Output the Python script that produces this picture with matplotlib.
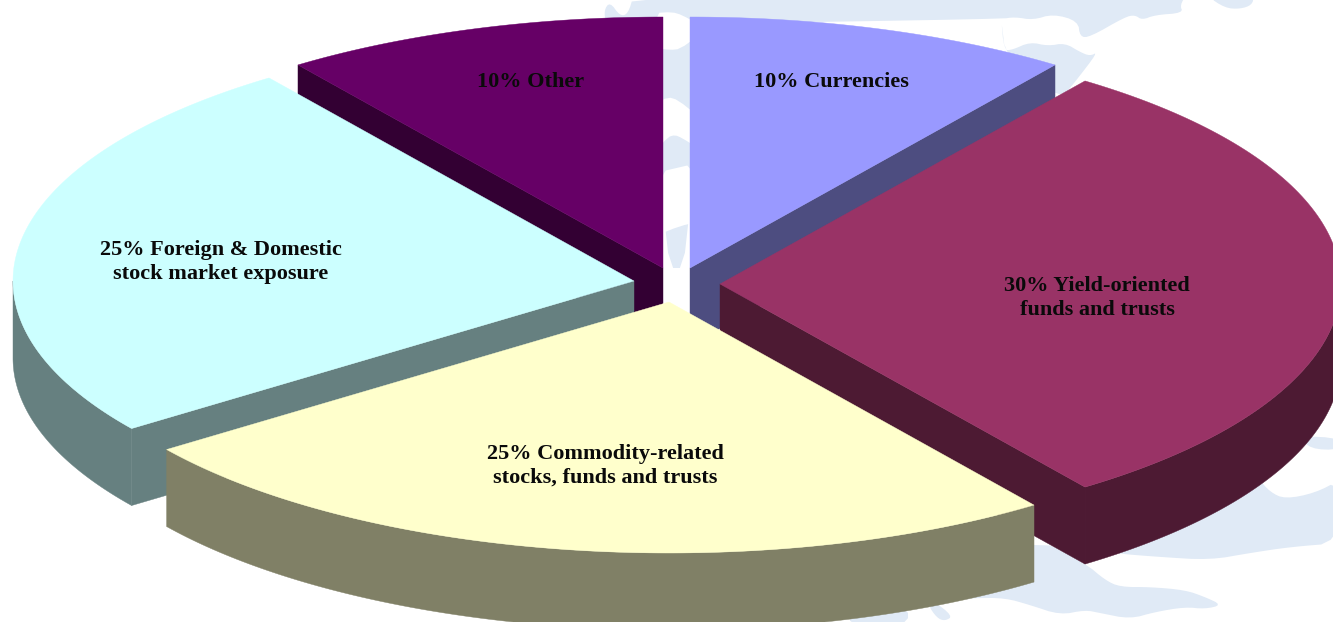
import numpy as np
import matplotlib
matplotlib.use("Agg")
import matplotlib.pyplot as plt
from matplotlib.patches import Polygon

W, H = 1333, 622

# ---- data -------------------------------------------------------------
labels = ["10% Currencies", "30% Yield-oriented\nfunds and trusts",
          "25% Commodity-related\nstocks, funds and trusts",
          "25% Foreign & Domestic\nstock market exposure", "10% Other"]
shares = [10, 30, 25, 25, 10]
top_colors = ["#9999FF", "#993366", "#FFFFCC", "#CCFFFF", "#660066"]
side_colors = ["#4D4D80", "#4D1A33", "#808066", "#668080", "#330033"]
apex_x = [690, 720, 669, 634, 663]
apex_y = [268, 284, 302, 281, 268]
label_x = [831, 1097, 605, 221, 531]
label_y = [82, 298, 466, 262, 82]
draw_order = [4, 0, 3, 1, 2]

RX, RY, DEPTH = 621, 251, 77

fig = plt.figure(figsize=(W / 100, H / 100), dpi=100, facecolor="white")
ax = fig.add_axes([0, 0, 1, 1])
ax.set_xlim(0, W)
ax.set_ylim(H, 0)
ax.axis("off")


def smooth(pts, rounds=2):
    p = np.asarray(pts, float)
    for _ in range(rounds):
        q = np.roll(p, -1, axis=0)
        p = np.column_stack([0.75 * p + 0.25 * q, 0.25 * p + 0.75 * q]).reshape(-1, 2)
    return p


# ---- pale map in the background ---------------------------------------
PALE = "#E0EAF6"
map_shapes = [
    [(610, 2), (604, 10), (606, 24), (663, 24), (663, 268), (690, 268), (690, 24),
     (1001, 19), (1015, 17), (1033, 20), (1053, 14), (1078, 21), (1080, 37),
     (1090, 37), (1125, 17), (1135, 15), (1142, 20), (1155, 15), (1183, 13),
     (1180, 5), (1187, -6), (634, -6), (628, 14), (620, 16)],
    [(1207, -4), (1225, 8), (1240, 9), (1252, 5), (1254, -4)],
    [(1001, 17), (1006, 60), (1060, 100), (1075, 82), (1098, 52), (1090, 56),
     (1080, 52), (1065, 43), (1048, 46), (1030, 42), (1012, 50), (1004, 50)],
    [(1340, 438), (1340, 450), (1310, 449), (1300, 436)],
    [(1258, 478), (1270, 492), (1285, 499), (1315, 493), (1340, 480), (1340, 543),
     (1290, 547), (1250, 553), (1210, 560), (1160, 557), (1110, 553), (1040, 540),
     (1200, 470)],
    [(1030, 535), (1085, 563), (1105, 580), (1120, 587), (1150, 587), (1185, 590),
     (1205, 597), (1222, 605), (1205, 609), (1185, 607), (1155, 612), (1130, 619),
     (1100, 613), (1085, 610), (1060, 615), (1030, 605), (1005, 598), (975, 598),
     (950, 600), (900, 610)],
    [(932, 600), (953, 616), (945, 621), (937, 618), (928, 605)],
    [(850, 626), (908, 626), (908, 605), (850, 612)],
]
for pts in map_shapes:
    ax.add_patch(Polygon(smooth(pts), closed=True, fc=PALE, ec="none", zorder=1))

gap_white = [
    [(655, 13), (672, 12), (682, 15), (698, 24), (698, 36), (680, 49), (670, 50), (655, 48)],
    [(655, 104), (668, 97), (678, 100), (698, 116), (698, 148), (682, 138), (675, 135), (668, 137), (655, 152)],
    [(655, 173), (698, 163), (698, 222), (680, 226), (655, 236)],
]
for pts in gap_white:
    ax.add_patch(Polygon(smooth(pts, 1), closed=True, fc="white", ec="none", zorder=2))
ax.add_patch(Polygon([(655, 268), (698, 268), (698, 345), (655, 345)],
                     closed=True, fc="white", ec="none", zorder=2))


# ---- exploded 3-D pie, angles come from the shares ----------------------
def rim(cx, cy, a0, a1, n=120):
    t = np.radians(np.linspace(a0, a1, n))
    return cx + RX * np.sin(t), cy - RY * np.cos(t)


edges = np.concatenate([[0], np.cumsum(shares)]) / np.sum(shares) * 360.0
for z, i in enumerate(draw_order):
    a0, a1 = edges[i], edges[i + 1]
    cx, cy = apex_x[i], apex_y[i]
    x, y = rim(cx, cy, a0, a1)
    zb = 3 + z * 3

    # cut face: only the one turned towards the viewer
    visible = [a for a, ok in ((a0, a0 > 180), (a1, a1 < 180)) if ok]
    for a in visible:
        ex, ey = rim(cx, cy, a, a, 1)
        ax.add_patch(Polygon([(cx, cy), (ex[0], ey[0]), (ex[0], ey[0] + DEPTH), (cx, cy + DEPTH)],
                             closed=True, fc=side_colors[i], ec=side_colors[i], lw=0.3, zorder=zb))
    # outer wall: only where the rim faces the viewer
    lo, hi = max(a0, 90), min(a1, 270)
    if lo < hi:
        wx, wy = rim(cx, cy, lo, hi)
        ax.add_patch(Polygon(np.column_stack([np.r_[wx, wx[::-1]], np.r_[wy, wy[::-1] + DEPTH]]),
                             closed=True, fc=side_colors[i], ec=side_colors[i], lw=0.3, zorder=zb + 1))
    # top face
    ax.add_patch(Polygon(np.column_stack([np.r_[cx, x], np.r_[cy, y]]), closed=True,
                         fc=top_colors[i], ec=top_colors[i], lw=0.3, zorder=zb + 2))

for i, text in enumerate(labels):
    ax.text(label_x[i], label_y[i], text, ha="center", va="center", multialignment="center",
            fontsize=16, fontweight="bold", family="Liberation Serif", color="#0A0A0A",
            linespacing=1.27, zorder=50)

fig.savefig("out.png", dpi=100, facecolor="white")
